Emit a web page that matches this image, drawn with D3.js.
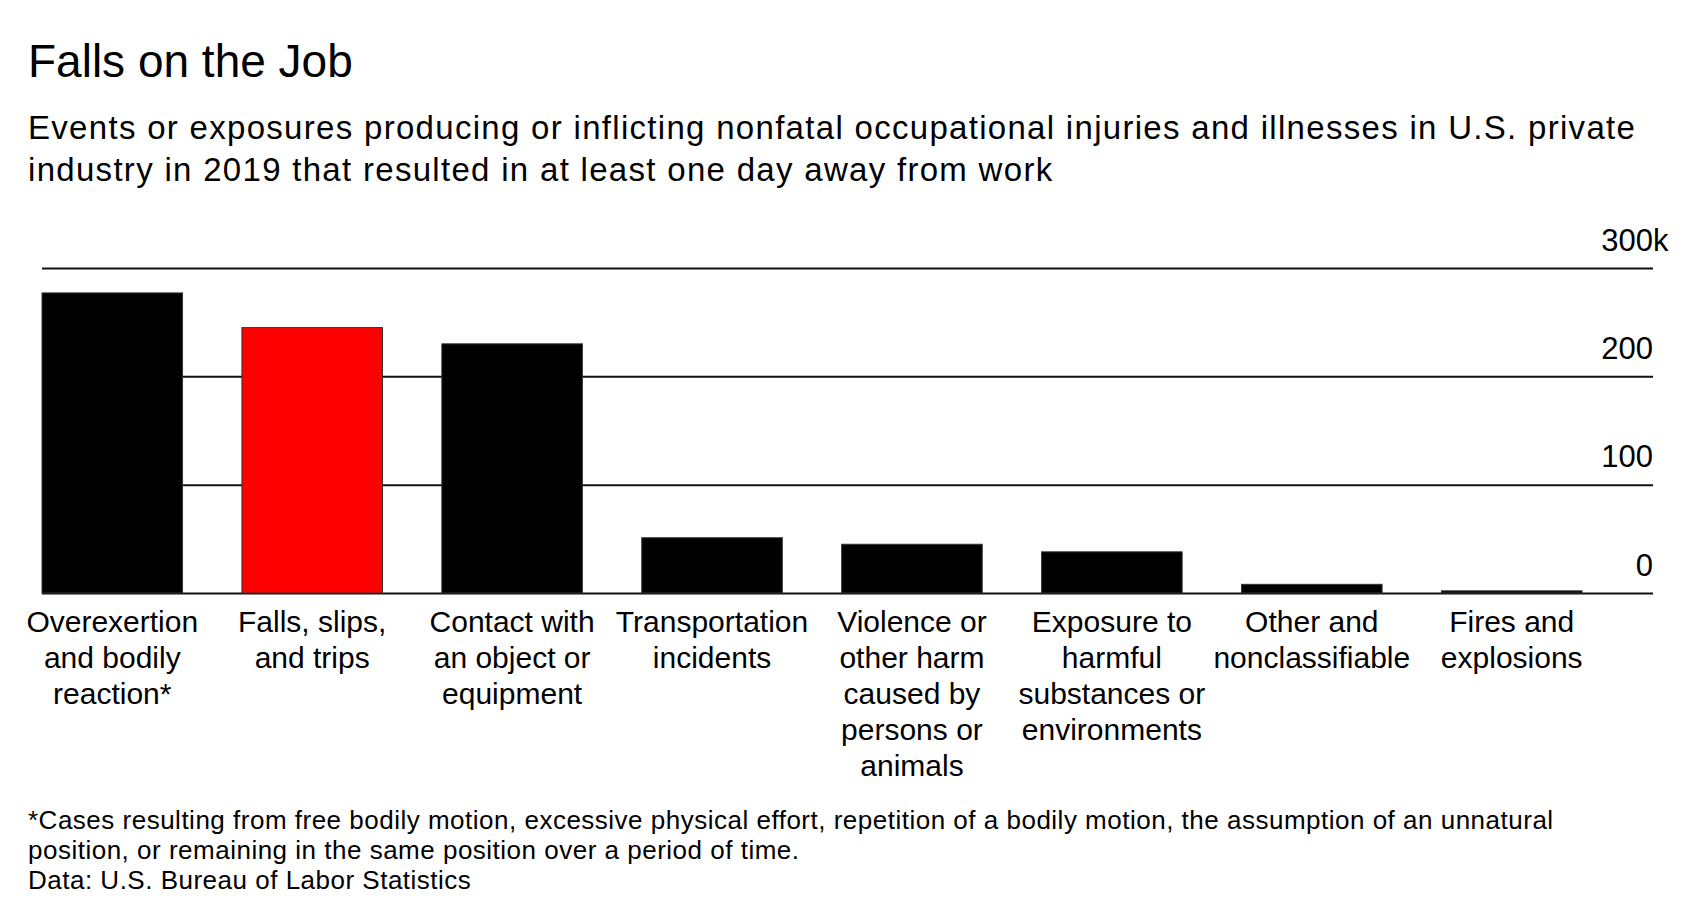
<!DOCTYPE html>
<html>
<head>
<meta charset="utf-8">
<script src="https://cdn.jsdelivr.net/npm/d3@7"></script>
<style>
  body { margin: 0; background: #fff; }
  text { font-family: "Liberation Sans", Arial, sans-serif; fill: #000; }
</style>
</head>
<body>
<script>
// categories, in the order shown, with the line breaks used under each bar
let categories = ["Overexertion and bodily reaction*", "Falls, slips, and trips", "Contact with an object or equipment",
    "Transportation incidents", "Violence or other harm caused by persons or animals",
    "Exposure to harmful substances or environments", "Other and nonclassifiable", "Fires and explosions"];
let labelLines = [["Overexertion", "and bodily", "reaction*"], ["Falls, slips,", "and trips"], ["Contact with", "an object or", "equipment"],
    ["Transportation", "incidents"], ["Violence or", "other harm", "caused by", "persons or", "animals"],
    ["Exposure to", "harmful", "substances or", "environments"], ["Other and", "nonclassifiable"], ["Fires and", "explosions"]];
// cases, thousands
let cases = [277, 245, 230, 51, 45, 38, 8, 2];
let highlight = "Falls, slips, and trips";
let yTicks = [0, 100, 200, 300];

let width = 1696;
let height = 920;

let gridLeft = 42;
let gridRight = 1653;
let barsRight = 1582;
let yZero = 593;
let yTop = 268;

let svg = d3.select("body").append("svg")
    .attr("width", width)
    .attr("height", height);

svg.append("rect").attr("width", width).attr("height", height).attr("fill", "#fff");

// title + subtitle
svg.append("text").attr("x", 28).attr("y", 77)
    .style("font-size", "46px")
    .text("Falls on the Job");

let sub = svg.append("text").attr("x", 28).attr("y", 139)
    .style("font-size", "33px")
    .style("letter-spacing", "1.3px");
sub.append("tspan").attr("x", 28).text("Events or exposures producing or inflicting nonfatal occupational injuries and illnesses in U.S. private");
sub.append("tspan").attr("x", 28).attr("dy", 42).text("industry in 2019 that resulted in at least one day away from work");

let x = d3.scaleBand()
    .domain(categories)
    .range([gridLeft, barsRight])
    .paddingInner(0.297)
    .paddingOuter(0);

let y = d3.scaleLinear()
    .domain([0, 300])
    .range([yZero, yTop]);

// gridlines + tick labels from an axis, labels sit above each line on the right
let yAxisGroup = svg.append("g").attr("transform", "translate(" + gridRight + ",0)");
let yAxis = d3.axisRight(y)
    .tickValues(yTicks)
    .tickSize(-(gridRight - gridLeft))
    .tickFormat(d3.format("d"));
yAxis(yAxisGroup);
yAxisGroup.attr("font-size", null).attr("font-family", null);
yAxisGroup.select(".domain").remove();
yAxisGroup.selectAll(".tick line").attr("stroke", "#111").attr("stroke-width", 2);
yAxisGroup.selectAll(".tick text")
    .attr("x", 0)
    .attr("y", -18)
    .attr("dy", null)
    .attr("text-anchor", "end")
    .attr("fill", "#000")
    .style("font-size", "31px");
// the top tick gets a hanging "k"
yAxisGroup.selectAll(".tick").filter(d => d === 300)
    .append("text")
    .attr("x", 0)
    .attr("y", -18)
    .attr("text-anchor", "start")
    .style("font-size", "31px")
    .text("k");

// bars
let data = categories.map((c, i) => ({ cat: c, value: cases[i], lines: labelLines[i] }));

svg.append("g").selectAll("rect")
    .data(data)
    .join("rect")
    .attr("x", d => x(d.cat))
    .attr("y", d => y(d.value))
    .attr("width", x.bandwidth())
    .attr("height", d => y(0) - y(d.value))
    .attr("fill", d => d.cat === highlight ? "#ff0000" : "#000")
    .attr("stroke", "#333")
    .attr("stroke-width", 1);

// category labels under the bars
let labels = svg.append("g").selectAll("text")
    .data(data)
    .join("text")
    .attr("text-anchor", "middle")
    .attr("y", 632)
    .style("font-size", "30px");
labels.selectAll("tspan")
    .data(d => d.lines.map(l => ({ l: l, cx: x(d.cat) + x.bandwidth() / 2 })))
    .join("tspan")
    .attr("x", d => d.cx)
    .attr("dy", (d, i) => i === 0 ? 0 : 36)
    .text(d => d.l);

// footnote + source
let foot = svg.append("text").attr("x", 28).attr("y", 829)
    .style("font-size", "26px")
    .style("letter-spacing", "0.5px");
foot.append("tspan").attr("x", 28).text("*Cases resulting from free bodily motion, excessive physical effort, repetition of a bodily motion, the assumption of an unnatural");
foot.append("tspan").attr("x", 28).attr("dy", 30).text("position, or remaining in the same position over a period of time.");
foot.append("tspan").attr("x", 28).attr("dy", 30).text("Data: U.S. Bureau of Labor Statistics");
</script>
</body>
</html>
